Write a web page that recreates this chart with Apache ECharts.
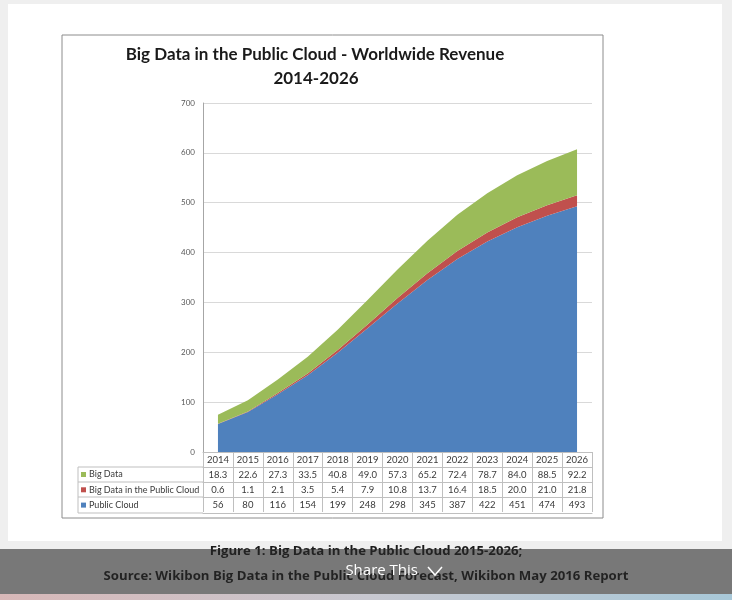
<!DOCTYPE html>
<html><head><meta charset="utf-8">
<script src="https://cdn.jsdelivr.net/npm/echarts@6/dist/echarts.min.js"></script>
<style>html,body{margin:0;padding:0;background:#efefef;}#c{width:732px;height:600px;}</style>
</head><body><div id="c"></div>
<script>
var years = ['2014','2015','2016','2017','2018','2019','2020','2021','2022','2023','2024','2025','2026'];
var bigData = [18.3,22.6,27.3,33.5,40.8,49.0,57.3,65.2,72.4,78.7,84.0,88.5,92.2];
var bigDataPublicCloud = [0.6,1.1,2.1,3.5,5.4,7.9,10.8,13.7,16.4,18.5,20.0,21.0,21.8];
var publicCloud = [56,80,116,154,199,248,298,345,387,422,451,474,493];
var seriesNames = ['Big Data','Big Data in the Public Cloud','Public Cloud'];
var seriesColors = ['#9bbb59','#c0504d','#4f81bd'];
var titleLines = ['Big Data in the Public Cloud - Worldwide Revenue','2014-2026'];
var captionLines = ['Figure 1: Big Data in the Public Cloud 2015-2026;','Source: Wikibon Big Data in the Public Cloud Forecast, Wikibon May 2016 Report'];

var FONT = "'Liberation Sans Narrow','Lato',sans-serif";
var lineC = '#bfbfbf';
var chart = echarts.init(document.getElementById('c'));

function rowAxis(data, offset, fmt, showTick) {
  return {
    type:'category', gridIndex:0, position:'bottom', offset:offset, data:data,
    boundaryGap:true,
    axisLine:{show:true, lineStyle:{color:lineC, width:1}},
    axisTick:{show:showTick, length:15, lineStyle:{color:lineC}},
    axisLabel:{show:!!fmt, interval:0, margin:3, fontSize:9.5, color:'#3a3a3a', fontFamily:FONT,
      formatter: fmt || function(){return '';}},
    splitLine:{show:false}
  };
}

var graphics = [
  {type:'rect', z:-20, shape:{x:8,y:4,width:714,height:537}, style:{fill:'#ffffff'}},
  {type:'rect', z:-19, shape:{x:62,y:35,width:541,height:483}, style:{fill:'#ffffff', stroke:'#8c8c8c', lineWidth:1}},
  {type:'text', z:10, x:315, y:55, style:{text:titleLines[0], fontSize:17, fontWeight:'bold', fill:'#1a1a1a', fontFamily:"'Lato',sans-serif", align:'center', verticalAlign:'middle'}},
  {type:'text', z:10, x:316, y:79, style:{text:titleLines[1], fontSize:17, fontWeight:'bold', fill:'#1a1a1a', fontFamily:"'Lato',sans-serif", align:'center', verticalAlign:'middle'}},
  {type:'line', z:10, shape:{x1:78,y1:467,x2:203,y2:467}, style:{stroke:lineC}},
  {type:'line', z:10, shape:{x1:78,y1:482,x2:203,y2:482}, style:{stroke:lineC}},
  {type:'line', z:10, shape:{x1:78,y1:497,x2:203,y2:497}, style:{stroke:lineC}},
  {type:'line', z:10, shape:{x1:78,y1:513,x2:203,y2:513}, style:{stroke:lineC}},
  {type:'line', z:10, shape:{x1:78,y1:467,x2:78,y2:513}, style:{stroke:lineC}}
];
for (var i=0;i<seriesNames.length;i++){
  var cy = 474.5 + i*15.3;
  graphics.push({type:'rect', z:10, shape:{x:81,y:cy-2.5,width:5,height:5}, style:{fill:seriesColors[i]}});
  graphics.push({type:'text', z:10, x:89, y:cy, style:{text:seriesNames[i], fontSize:9, fill:'#3a3a3a', fontFamily:FONT, align:'left', verticalAlign:'middle'}});
}
// page caption and overlay
graphics.push({type:'text', z:50, x:366, y:551, style:{text:captionLines[0], fontSize:13.2, fontWeight:'bold', fill:'#1a1a1a', fontFamily:"'Open Sans',sans-serif", align:'center', verticalAlign:'middle'}});
graphics.push({type:'text', z:50, x:366, y:576, style:{text:captionLines[1], fontSize:13.2, fontWeight:'bold', fill:'#1a1a1a', fontFamily:"'Open Sans',sans-serif", align:'center', verticalAlign:'middle'}});
graphics.push({type:'rect', z:60, shape:{x:0,y:549,width:732,height:45}, style:{fill:'rgba(40,40,40,0.6)'}});
graphics.push({type:'rect', z:60, shape:{x:0,y:594,width:732,height:6}, style:{fill:new echarts.graphic.LinearGradient(0,0,1,0,[{offset:0,color:'#d8b8b8'},{offset:0.5,color:'#c8c8d0'},{offset:1,color:'#a8c8d8'}])}});
graphics.push({type:'text', z:70, x:418, y:571, style:{text:'Share This', fontSize:15, fill:'#ffffff', fontFamily:"'Open Sans',sans-serif", align:'right', verticalAlign:'middle'}});
graphics.push({type:'polyline', z:70, shape:{points:[[428,567],[435,575],[442,567]]}, style:{stroke:'#ffffff', lineWidth:1.5, fill:null}});

var option = {
  animation:false,
  backgroundColor:'transparent',
  grid:{left:203, right:140, top:103, bottom:148, containLabel:false},
  xAxis:[
    rowAxis(years, 0, function(v){return v;}, true),
    rowAxis(bigData.map(function(v){return v.toFixed(1);}), 15, function(v){return v;}, true),
    rowAxis(bigDataPublicCloud.map(function(v){return v.toFixed(1);}), 30, function(v){return v;}, true),
    rowAxis(publicCloud.map(function(v){return String(v);}), 45, function(v){return v;}, true),
    rowAxis(years, 61, null, false)
  ],
  yAxis:{type:'value', min:0, max:700, interval:100,
    axisLine:{show:true, lineStyle:{color:'#a6a6a6'}},
    axisTick:{show:false},
    axisLabel:{fontSize:8, color:'#595959', margin:8, fontFamily:FONT},
    splitLine:{lineStyle:{color:'#d9d9d9'}}
  },
  series:[
    {name:seriesNames[2], type:'line', stack:'t', xAxisIndex:0, data:publicCloud, symbol:'none',
      lineStyle:{width:0}, areaStyle:{color:seriesColors[2], opacity:1}, itemStyle:{color:seriesColors[2]}},
    {name:seriesNames[1], type:'line', stack:'t', xAxisIndex:0, data:bigDataPublicCloud, symbol:'none',
      lineStyle:{width:0}, areaStyle:{color:seriesColors[1], opacity:1}, itemStyle:{color:seriesColors[1]}},
    {name:seriesNames[0], type:'line', stack:'t', xAxisIndex:0, data:bigData, symbol:'none',
      lineStyle:{width:0}, areaStyle:{color:seriesColors[0], opacity:1}, itemStyle:{color:seriesColors[0]}}
  ],
  graphic:graphics
};
chart.setOption(option);
</script></body></html>
